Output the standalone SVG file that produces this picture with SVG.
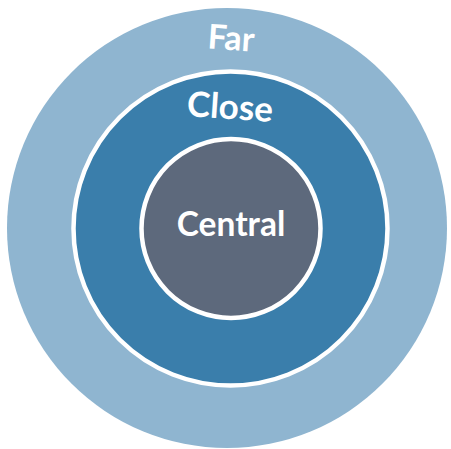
<svg xmlns="http://www.w3.org/2000/svg" width="451" height="449" viewBox="0 0 451 449">
<style>
.lbl{font-family:Lato,"Open Sans","Liberation Sans",sans-serif;font-weight:700;fill:#ffffff;text-anchor:middle}
.ring{stroke:#ffffff;stroke-width:4.5}
</style>
<rect width="451" height="449" fill="#ffffff"/>
<g id="far">
<circle cx="227" cy="228" r="220" fill="#8fb5d0"/>
<text class="lbl" x="231" y="50" font-size="34" transform="rotate(4 231 40)">Far</text>
</g>
<g id="close">
<circle class="ring" cx="230.5" cy="228.5" r="157" fill="#3a7eab"/>
<text class="lbl" x="230" y="119" font-size="35" transform="rotate(4 230 108)">Close</text>
</g>
<g id="central">
<circle class="ring" cx="231" cy="228.5" r="89.5" fill="#5d697c"/>
<text class="lbl" x="231" y="236" font-size="33.5">Central</text>
</g>
<g id="connectors"/>
</svg>
